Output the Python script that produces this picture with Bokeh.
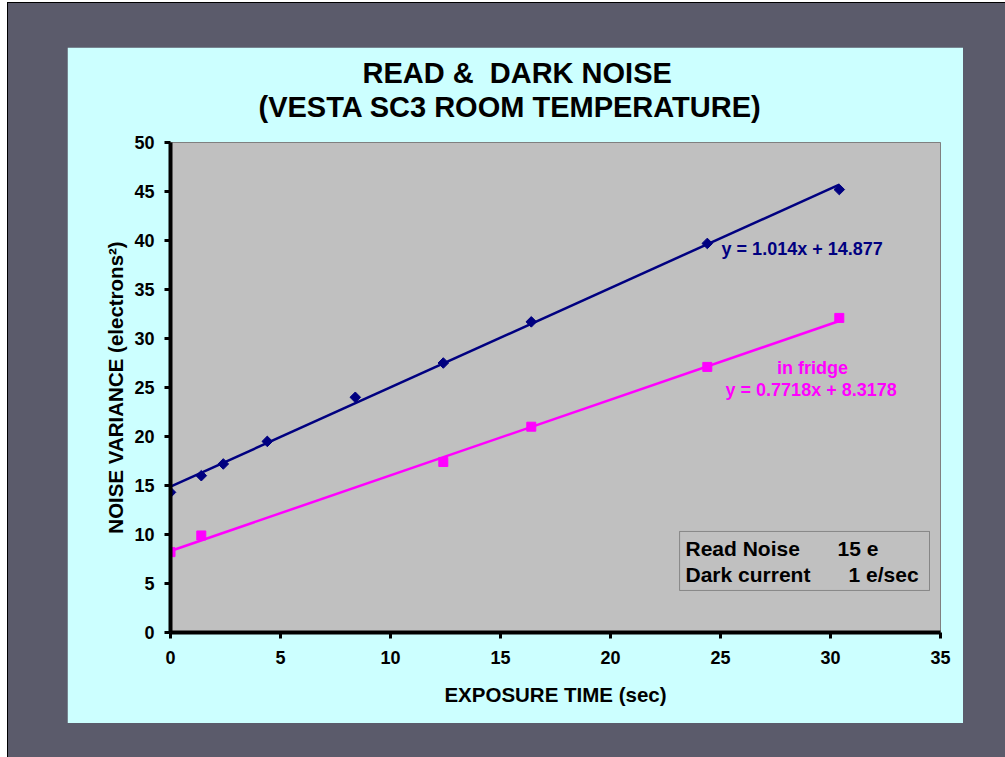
import numpy as np
from bokeh.plotting import figure
from bokeh.models import Range1d, FixedTicker, Label, BoxAnnotation, Title
from bokeh.layouts import column
from bokeh.embed import file_html
from bokeh.resources import INLINE

# ---------------- data ----------------
room_time = [0.0, 1.4, 2.4, 4.4, 8.4, 12.4, 16.4, 24.4, 30.4]
room_var = [14.3, 16.0, 17.2, 19.5, 24.0, 27.5, 31.7, 39.7, 45.2]

fridge_time = [0.0, 1.4, 12.4, 16.4, 24.4, 30.4]
fridge_var = [8.2, 9.9, 17.4, 21.0, 27.1, 32.1]

room_slope, room_intercept = 1.014, 14.877
fridge_slope, fridge_intercept = 0.7718, 8.3178

x_ticks = [0, 5, 10, 15, 20, 25, 30, 35]
y_ticks = [0, 5, 10, 15, 20, 25, 30, 35, 40, 45, 50]

title_lines = ["READ & \u00a0DARK NOISE", "(VESTA SC3 ROOM TEMPERATURE)"]
x_label = "EXPOSURE TIME (sec)"
y_label = "NOISE VARIANCE (electrons\u00b2)"
room_eq = "y = 1.014x + 14.877"
fridge_name = "in fridge"
fridge_eq = "y = 0.7718x + 8.3178"
box_keys = ["Read Noise", "Dark current"]
box_vals = ["15 e", "1 e/sec"]

# ---------------- styling ----------------
FONT = "Liberation Sans"
NAVY = "#000080"
MAGENTA = "#ff00ff"

p = figure(width=896, height=676, output_backend="svg", toolbar_location=None,
           x_range=Range1d(0, 35), y_range=Range1d(0, 50),
           min_border_left=103, min_border_right=23,
           min_border_top=95, min_border_bottom=91,
           background_fill_color="#c0c0c0", border_fill_color="#ccffff",
           outline_line_color="#808080", outline_line_width=1,
           margin=(44, 0, 0, 59))

# two-line title
p.title.text = title_lines[0]
p.title.align = "left"
p.title.offset = 192
p.title.text_font = FONT
p.title.text_font_style = "bold"
p.title.text_font_size = "29px"
p.title.text_color = "black"
p.title.standoff = -40
p.add_layout(Title(text=title_lines[1], align="left", offset=88, text_font=FONT,
                   text_font_style="bold", text_font_size="29px",
                   text_color="black", standoff=40), "above")

p.xgrid.visible = False
p.ygrid.visible = False

for ax, ticks in ((p.xaxis[0], x_ticks), (p.yaxis[0], y_ticks)):
    ax.ticker = FixedTicker(ticks=ticks)
    ax.axis_line_width = 4
    ax.axis_line_color = "black"
    ax.major_tick_line_width = 3
    ax.major_tick_line_color = "black"
    ax.major_tick_out = 6
    ax.major_tick_in = 0
    ax.minor_tick_line_color = None
    ax.major_label_text_font = FONT
    ax.major_label_text_font_style = "bold"
    ax.major_label_text_font_size = "18px"
    ax.major_label_text_color = "black"
    ax.axis_label_text_font = FONT
    ax.axis_label_text_font_style = "bold"
    ax.axis_label_text_font_size = "20.5px"
    ax.axis_label_text_color = "black"

p.xaxis.axis_label = x_label
p.yaxis.axis_label = y_label
p.xaxis.major_label_standoff = 12
p.xaxis.axis_label_standoff = 16
p.yaxis.major_label_standoff = 10
p.yaxis.axis_label_standoff = 4

# trend lines
room_x = [0, max(room_time)]
room_y = [room_intercept + room_slope * x for x in room_x]
fridge_x = [0, max(fridge_time)]
fridge_y = [fridge_intercept + fridge_slope * x for x in fridge_x]
p.line(room_x, room_y, line_color=NAVY, line_width=2.5)
p.line(fridge_x, fridge_y, line_color=MAGENTA, line_width=2.5)

# data points
p.scatter(room_time, room_var, marker="square", size=7.5, angle=np.pi / 4,
          fill_color=NAVY, line_color=NAVY)
p.scatter(fridge_time, fridge_var, marker="square", size=9,
          fill_color=MAGENTA, line_color=MAGENTA)

def lab(x, y, text, color="black", size="18px", align="left"):
    p.add_layout(Label(x=x, y=y, text=text, text_color=color, text_font=FONT,
                       text_font_style="bold", text_font_size=size,
                       text_align=align, text_baseline="middle"))

# equations
lab(25.05, 39.1, room_eq, color=NAVY)
lab(29.18, 27.0, fridge_name, color=MAGENTA, align="center")
lab(25.23, 24.7, fridge_eq, color=MAGENTA)

# info box
p.add_layout(BoxAnnotation(left=23.14, right=34.5, bottom=4.29, top=10.31,
                           fill_color=None, line_color="black", line_width=1))
lab(23.41, 8.57, box_keys[0], size="21px")
lab(23.41, 5.92, box_keys[1], size="21px")
lab(30.32, 8.57, box_vals[0], size="21px")
lab(30.82, 5.92, box_vals[1], size="21px")

outer = column(p, width=998, height=755, margin=(2, 0, 0, 7),
               styles={"background-color": "#5b5b6b",
                       "border-left": "1px solid black",
                       "border-top": "1px solid black"})

open("out.html", "w").write(file_html(outer, INLINE))
